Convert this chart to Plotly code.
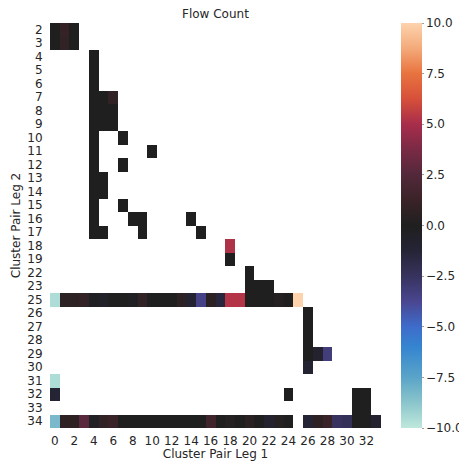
import plotly.graph_objects as go

# ---- data ----
row_labels = ["2", "3", "4", "5", "6", "7", "8", "9", "10", "11", "12", "13", "14",
              "15", "16", "17", "18", "19", "22", "23", "25", "26", "27", "28",
              "29", "30", "31", "32", "33", "34"]
col_labels = list(range(34))
x_tick_labels = [str(v) for v in range(0, 34, 2)]
cbar_ticks = [-10, -7.5, -5, -2.5, 0, 2.5, 5, 7.5, 10]

cell_rows = (["2"] * 3 + ["3"] * 3 + ["4", "5", "6"] + ["7"] * 3 + ["8"] * 3 + ["9"] * 3
             + ["10"] * 2 + ["11"] * 2 + ["12"] * 2 + ["13"] * 2 + ["14"] * 2 + ["15"] * 2
             + ["16"] * 4 + ["17"] * 4 + ["18", "19", "22"] + ["23"] * 3
             + ["25"] * 26 + ["26", "27", "28"] + ["29"] * 3 + ["30", "31"]
             + ["32"] * 4 + ["33"] * 2 + ["34"] * 33)
cell_cols = ([0, 1, 2] + [0, 1, 2] + [4, 4, 4] + [4, 5, 6] + [4, 5, 6] + [4, 5, 6]
             + [4, 7] + [4, 10] + [4, 7] + [4, 5] + [4, 5] + [4, 7]
             + [4, 8, 9, 14] + [4, 5, 9, 15] + [18, 18, 20] + [20, 21, 22]
             + list(range(26)) + [26, 26, 26] + [26, 27, 28] + [26, 0]
             + [0, 24, 31, 32] + [31, 32] + list(range(25)) + list(range(26, 34)))
cell_values = ([0, 1.0, 0] + [0, 0.8, 0] + [0, 0, 0] + [0, 0, 0.8] + [0, 0, 0] + [0, 0, 0]
               + [0, 0] + [0, 0] + [0, 0] + [0, 0] + [0, 0] + [0, 0]
               + [0, 0, 0, 0] + [0, 0, 0, 0] + [5.2, 0, 0] + [0, 0, 0]
               + [-9.6, 0.6, 0.6, 0.9, -0.2, -0.5, 0, 0, -0.2, 0.8, 0, 0, 0, 0.6,
                  -1.0, -3.5, 0.6, -1.5, 5.3, 5.3, 0, 0, 0, 0.3, 0, 10]
               + [0, 0, 0] + [0, -0.8, -3.2] + [-1.0, -9.6]
               + [-1.2, 0, 0, 0] + [0, 0]
               + [-8.3, 0.7, 0.7, 2.7, -0.3, 0.8, 1.2, 0, 0, 0, 0, 0, 0, 0, 0, 0,
                  1.5, 0, 0.3, 0, 0.5, 0, -0.8, 0.3, 0]
               + [-1.2, 0.7, 1.2, -2.5, -2.3, 0, 0, -0.8])

# ---- build matrix ----
z = [[None] * len(col_labels) for _ in row_labels]
for r, c, v in zip(cell_rows, cell_cols, cell_values):
    z[row_labels.index(r)][c] = v

icefire = [
    [0.000, "#bfe8dc"],
    [0.0625, "#8bc5cc"],
    [0.125, "#5aa4c8"],
    [0.20, "#3585d0"],
    [0.25, "#3e6ccb"],
    [0.3125, "#4a4690"],
    [0.375, "#37335e"],
    [0.4375, "#252436"],
    [0.500, "#1f1f1f"],
    [0.5625, "#3a2328"],
    [0.625, "#53283a"],
    [0.6875, "#7a2a45"],
    [0.750, "#a82d4b"],
    [0.8125, "#d6503a"],
    [0.875, "#e8733f"],
    [0.9375, "#f4aa7a"],
    [1.000, "#fdd3ad"],
]

# page body has an 8px default margin: size the figure to fit the window
BODY = 8
W, H = 467 - BODY, 461 - BODY
ML, MT, MR, MB = 50 - BODY, 23 - BODY, 86, 33
plot_w = W - ML - MR
plot_h = H - MT - MB

txt = "#262626"
fig = go.Figure(go.Heatmap(
    z=z, x=col_labels, y=row_labels,
    colorscale=icefire, zmin=-10, zmax=10,
    hoverongaps=False,
    colorbar=dict(
        thickness=21, len=1.0, lenmode="fraction", y=0, yanchor="bottom",
        x=1.0 + 20 / plot_w, xanchor="left", xpad=0, ypad=0,
        outlinewidth=0,
        tickvals=cbar_ticks, ticktext=[f"{v:.1f}".replace("-", "\u2212") for v in cbar_ticks],
        ticks="outside", ticklen=2, tickcolor="#a0a0a0", tickwidth=1,
        tickfont=dict(family="DejaVu Sans", size=12, color=txt),
    ),
))

fig.update_layout(
    width=W, height=H,
    margin=dict(l=ML, r=MR, t=MT, b=MB, autoexpand=False),
    paper_bgcolor="white", plot_bgcolor="white",
    font=dict(family="DejaVu Sans", size=12, color=txt),
    showlegend=False,
    annotations=[dict(text="Flow Count", x=0.5, xref="paper", xanchor="center",
                      y=1 + (23 - 14) / plot_h, yref="paper", yanchor="middle",
                      showarrow=False, font=dict(family="DejaVu Sans", size=12, color=txt))],
)

fig.update_xaxes(
    range=[-0.5, 33.5], tickmode="array", tickvals=list(range(0, 34, 2)), ticktext=x_tick_labels,
    showgrid=False, zeroline=False, showline=False, automargin=False,
    ticks="outside", ticklen=2, tickcolor="white",
    tickfont=dict(size=12, color=txt),
    title=dict(text="Cluster Pair Leg 1", font=dict(size=12, color=txt), standoff=4),
)
fig.update_yaxes(
    type="category", autorange="reversed",
    tickmode="array", tickvals=row_labels, ticktext=row_labels,
    showgrid=False, zeroline=False, showline=False, automargin=False,
    ticks="outside", ticklen=4, tickcolor="white",
    tickfont=dict(size=12, color=txt),
    title=dict(text="Cluster Pair Leg 2", font=dict(size=12, color=txt), standoff=4),
)

fig.write_html("out.html")
